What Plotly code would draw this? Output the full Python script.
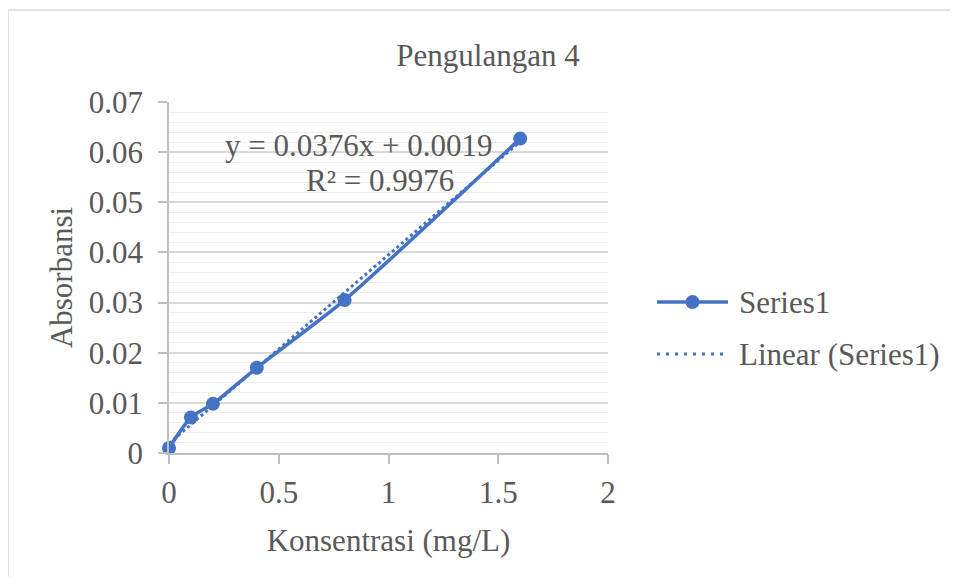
import numpy as np
import plotly.graph_objects as go

# ---- data ----
konsentrasi = [0, 0.1, 0.2, 0.4, 0.8, 1.6]
absorbansi = [0.0010, 0.0071, 0.0098, 0.0170, 0.0305, 0.0627]
y_ticks = [0, 0.01, 0.02, 0.03, 0.04, 0.05, 0.06, 0.07]
y_tick_labels = ["0", "0.01", "0.02", "0.03", "0.04", "0.05", "0.06", "0.07"]
x_ticks = [0, 0.5, 1, 1.5, 2]
x_tick_labels = ["0", "0.5", "1", "1.5", "2"]
series_names = ["Series1", "Linear (Series1)"]
equation_text = "y = 0.0376x + 0.0019"
r2_text = "R² = 0.9976"

# linear trend line fitted to the series
slope, intercept = np.polyfit(konsentrasi, absorbansi, 1)
trend_x = [min(konsentrasi), max(konsentrasi)]
trend_y = [slope * v + intercept for v in trend_x]

BLUE = "#4472C4"
TXT = "#595959"
FONT = "Liberation Serif"
FS = 31

fig = go.Figure()
fig.add_trace(go.Scatter(
    x=trend_x, y=trend_y, mode="lines", name=series_names[1],
    line=dict(color=BLUE, width=3, dash="dot"), showlegend=False))
fig.add_trace(go.Scatter(
    x=konsentrasi, y=absorbansi, mode="lines+markers", name=series_names[0],
    line=dict(color=BLUE, width=3.5, shape="spline", smoothing=0.6),
    marker=dict(color=BLUE, size=14), showlegend=False, cliponaxis=False))

# plot-area geometry (pixels, figure coordinates)
L, R, T, B = 161, 600, 94, 445
W, H = 958, 577
pw, ph = R - L, B - T

def px(xp):
    return (xp - L) / pw

def py(yp):
    return (B - yp) / ph

fig.update_layout(
    width=W, height=H,
    margin=dict(l=L, r=W - R, t=T, b=H - B, autoexpand=False),
    paper_bgcolor="white", plot_bgcolor="white",
    font=dict(family=FONT, size=FS, color=TXT),
    title=dict(text="Pengulangan 4", x=480 / W, xref="container", xanchor="center",
               y=1 - 47 / H, yref="container", yanchor="middle",
               font=dict(family=FONT, size=FS, color=TXT)),
    showlegend=False,
    xaxis=dict(range=[0, 2], tickvals=x_ticks, ticktext=x_tick_labels,
               showgrid=False, zeroline=False,
               showline=True, linecolor="#BFBFBF", linewidth=1.5,
               ticks="outside", ticklen=9, tickcolor="#BFBFBF", tickwidth=1.5,
               ticklabelstandoff=2,
               title=dict(text="Konsentrasi (mg/L)", standoff=20,
                          font=dict(family=FONT, size=FS, color=TXT))),
    yaxis=dict(range=[0, 0.07], tickvals=y_ticks, ticktext=y_tick_labels,
               showgrid=True, gridcolor="#D9D9D9", gridwidth=1.5, zeroline=False,
               showline=True, linecolor="#BFBFBF", linewidth=1.5,
               ticks="outside", ticklen=9, tickcolor="#BFBFBF", tickwidth=1.5,
               ticklabelstandoff=9,
               minor=dict(dtick=0.002, showgrid=True, gridcolor="#EDEDED", gridwidth=1),
               title=dict(text="Absorbansi", standoff=7,
                          font=dict(family=FONT, size=FS, color=TXT))),
)

# chart frame
fig.add_shape(type="rect", xref="paper", yref="paper",
              x0=px(0), x1=px(W + 5), y0=py(H + 5), y1=py(2),
              line=dict(color="#D9D9D9", width=1.5), fillcolor="rgba(0,0,0,0)",
              layer="below")

# trendline equation label
fig.add_annotation(text=equation_text, xref="paper", yref="paper",
                   x=px(350), y=py(137), xanchor="center", yanchor="middle",
                   showarrow=False, font=dict(family=FONT, size=FS, color=TXT))
fig.add_annotation(text=r2_text, xref="paper", yref="paper",
                   x=px(372), y=py(172), xanchor="center", yanchor="middle",
                   showarrow=False, font=dict(family=FONT, size=FS, color=TXT))

# legend (Excel style: long line samples)
leg_x0, leg_x1, leg_text = 649, 720, 729
leg_rows = [294, 346]
fig.add_shape(type="line", xref="paper", yref="paper",
              x0=px(leg_x0), x1=px(leg_x1), y0=py(leg_rows[0]), y1=py(leg_rows[0]),
              line=dict(color=BLUE, width=3.5))
fig.add_shape(type="circle", xref="paper", yref="paper",
              x0=px((leg_x0 + leg_x1) / 2 - 7), x1=px((leg_x0 + leg_x1) / 2 + 7),
              y0=py(leg_rows[0] + 7), y1=py(leg_rows[0] - 7),
              line=dict(color=BLUE, width=0), fillcolor=BLUE)
fig.add_shape(type="line", xref="paper", yref="paper",
              x0=px(leg_x0), x1=px(leg_x1), y0=py(leg_rows[1]), y1=py(leg_rows[1]),
              line=dict(color=BLUE, width=3, dash="3px,6px"))
for name, row in zip(series_names, leg_rows):
    fig.add_annotation(text=name, xref="paper", yref="paper",
                       x=px(leg_text), y=py(row), xanchor="left", yanchor="middle",
                       showarrow=False, font=dict(family=FONT, size=FS, color=TXT))

fig.write_html("out.html")
